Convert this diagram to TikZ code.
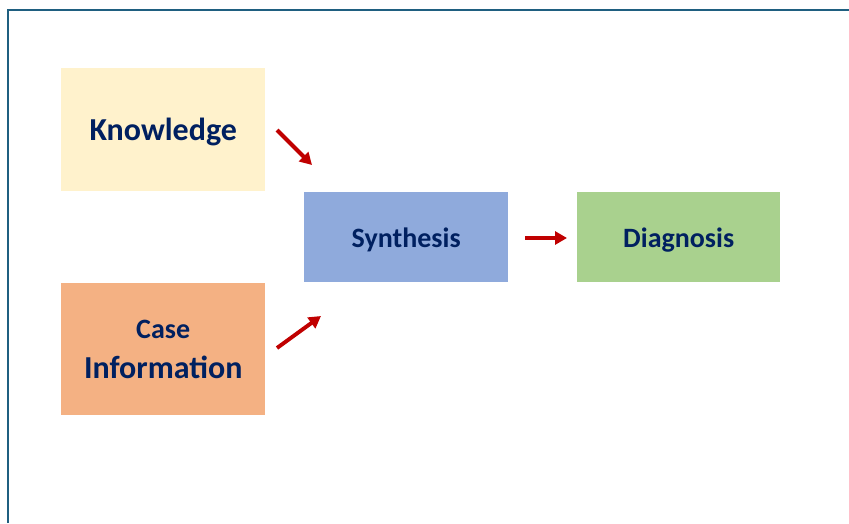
\documentclass[tikz,border=0pt]{standalone}
\usepackage{fontspec}
\setmainfont{Carlito}
\usetikzlibrary{arrows.meta}
\definecolor{frame}{HTML}{1F5F80}
\definecolor{navy}{HTML}{002060}
\definecolor{arrowred}{HTML}{C00000}
\definecolor{kfill}{HTML}{FFF2CC}
\definecolor{cfill}{HTML}{F4B183}
\definecolor{sfill}{HTML}{8FAADC}
\definecolor{dfill}{HTML}{A9D18E}
\newcommand{\lowered}[1]{\raisebox{-2.5pt}[\height][\depth]{#1}}
\tikzset{
  box/.style={draw=none, inner sep=0pt, anchor=north west, text=navy, font=\bfseries, align=center},
  redarrow/.style={draw=arrowred, line width=3.9pt, -{Triangle[length=12pt,width=13pt]}},
}
\begin{document}
\begin{tikzpicture}[x=1pt,y=-1pt]
\useasboundingbox (0,0) rectangle (849,523);
\draw[frame, line width=2.6pt] (8,523) -- (8,10) -- (849,10);
\node[box, fill=kfill, minimum width=204pt, minimum height=123pt, font=\bfseries\fontsize{32}{38}\selectfont] (k) at (61,68) {\lowered{Knowledge}};
\node[box, fill=cfill, minimum width=204pt, minimum height=132pt] (c) at (61,283) {{\fontsize{28}{34}\selectfont Case}\\[16pt]{\fontsize{32}{38}\selectfont Information}};
\node[box, fill=sfill, minimum width=204pt, minimum height=90pt, font=\bfseries\fontsize{28}{34}\selectfont] (s) at (304,192) {\lowered{Synthesis}};
\node[box, fill=dfill, minimum width=203pt, minimum height=90pt, font=\bfseries\fontsize{28}{34}\selectfont] (d) at (577,192) {\lowered{Diagnosis}};
\coordinate (a1s) at (277,130);
\coordinate (a1e) at (312,165);
\coordinate (a2s) at (277,348);
\coordinate (a2e) at (321,316);
\coordinate (a3s) at (525,238);
\coordinate (a3e) at (567,238);
\draw[redarrow] (a1s) -- (a1e);
\draw[redarrow] (a2s) -- (a2e);
\draw[redarrow] (a3s) -- (a3e);
\end{tikzpicture}
\end{document}
